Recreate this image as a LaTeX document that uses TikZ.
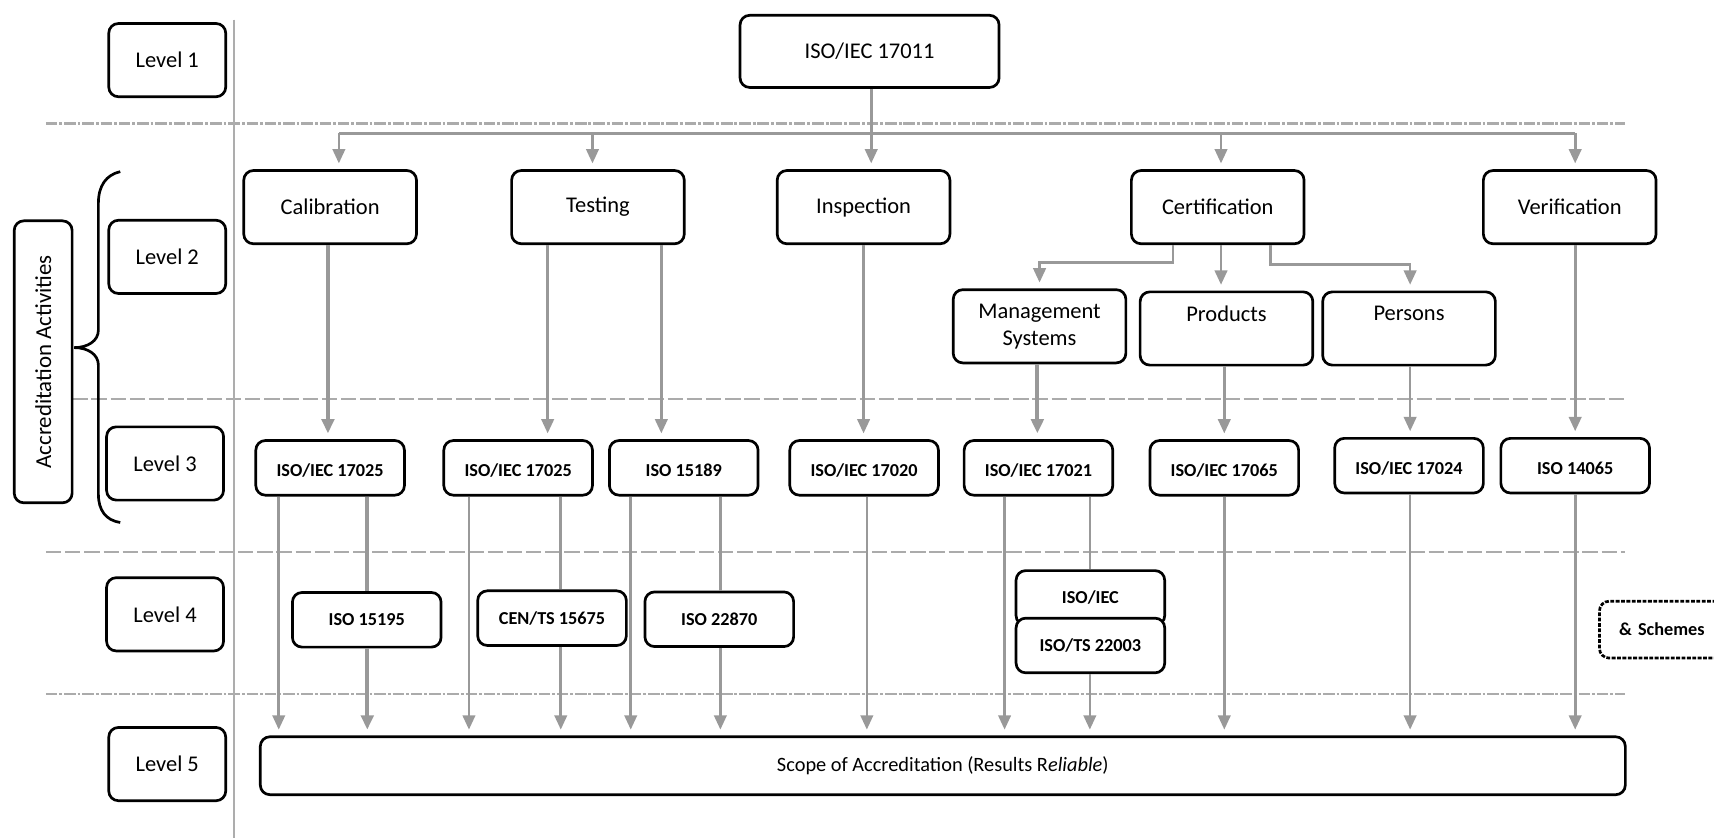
\documentclass[tikz,border=0pt]{standalone}
\usepackage{fontspec}
\setmainfont{Carlito}
\usetikzlibrary{arrows.meta,calc}
\definecolor{gl}{HTML}{999999}
\definecolor{dl}{HTML}{ABABAB}
\tikzset{
  box/.style={draw=black, line width=1.4pt, rounded corners=5pt, fill=white, inner sep=0pt, align=center},
  lvl/.style={box, minimum width=2.14cm, minimum height=1.34cm, font=\fontsize{11.7}{14}\selectfont},
  act/.style={box, minimum width=3.16cm, minimum height=1.34cm, font=\fontsize{11.7}{14}\selectfont},
  std/.style={box, minimum width=2.72cm, minimum height=1.0cm, font=\bfseries\fontsize{9.5}{11}\selectfont},
  stdlow/.style={std, text height=11pt, text depth=1.5pt},
  gline/.style={draw=gl, line width=1.4pt},
  garr/.style={gline, -{Triangle[width=6.5pt,length=7.5pt]}, shorten >=3pt},
  garrb/.style={garr, line width=2.1pt},
  sepA/.style={draw=dl, line width=1.1pt, dash pattern=on 6pt off 1pt on 1.5pt off 1pt},
  sepB/.style={draw=dl, line width=1.2pt, dash pattern=on 8pt off 2pt},
}
\begin{document}
\begin{tikzpicture}[x=0.02cm,y=-0.02cm]
\useasboundingbox (0,0) rectangle (1568,767);
% separators
\draw[sepA] (42,113) -- (1487,113);
\draw[sepB] (66,365) -- (1487,365);
\draw[sepB] (42,505) -- (1487,505);
\draw[sepA] (42,635) -- (1487,635);
\draw[draw=gl!80, line width=0.6pt] (214,18) -- (214,767);
% left column
\node[lvl] (L1) at (153,55) {Level 1};
\node[lvl] (L2) at (153,235) {Level 2};
\node[lvl] (L3) at (151,424) {Level 3};
\node[lvl] (L4) at (151,562) {Level 4};
\node[lvl] (L5) at (153,699) {Level 5};
\node[box, minimum width=1.06cm, minimum height=5.16cm, font=\fontsize{11.9}{14}\selectfont] (acc) at (39.5,331) {};
\node[rotate=90, font=\fontsize{11.9}{14}\selectfont] (acct) at (acc.center) {Accreditation Activities};
\draw[line width=1.4pt] (110,157) .. controls (97,160) and (90,170) .. (90,186) -- (90,302)
  .. controls (90,312) and (80,318) .. (68,318) .. controls (80,318) and (90,324) .. (90,334)
  -- (90,452) .. controls (90,467) and (97,476) .. (110,478);
% level 1
\node[box, minimum width=4.74cm, minimum height=1.32cm, font=\fontsize{11.7}{14}\selectfont] (top) at (795.5,47) {ISO/IEC 17011};
% level 2
\node[act] (cal) at (302,189.5) {Calibration};
\node[act] (test) at (547,189.5) {Testing};
\node[act] (insp) at (790,189.5) {Inspection};
\node[act] (cert) at (1114,189.5) {Certification};
\node[act] (ver) at (1436,189.5) {Verification};
\node[act] (ms) at (951,298.5) {Management\\Systems};
\node[act] (prod) at (1122,300.5) {Products\\\phantom{Systems}};
\node[act] (pers) at (1289,300.5) {Persons\\\phantom{Systems}};
% level 3
\node[stdlow] (a25a) at (302,428) {ISO/IEC 17025};
\node[stdlow] (a25b) at (474,428) {ISO/IEC 17025};
\node[stdlow] (i189) at (625.5,428) {ISO 15189};
\node[stdlow] (i20) at (790.5,428) {ISO/IEC 17020};
\node[stdlow] (i21) at (950,428) {ISO/IEC 17021};
\node[stdlow] (i65) at (1120,428) {ISO/IEC 17065};
\node[stdlow] (i24) at (1289,426) {ISO/IEC 17024};
\node[stdlow] (i14) at (1441,426) {ISO 14065};
% level 4
\node[std] (i195) at (335.5,567) {ISO 15195};
\node[std] (cen) at (505,565.5) {CEN/TS 15675};
\node[std] (i870) at (658,566.5) {ISO 22870};
\node[std] (iec) at (997.5,547) {ISO/IEC};
\node[std] (ts) at (997.5,590.5) {ISO/TS 22003};
\node[std, anchor=west, dash pattern=on 2pt off 0.8pt, minimum width=3.2cm, minimum height=1.04cm,
  text width=2.48cm, inner xsep=0.36cm, align=left] (sch) at (1462,576) {\& Schemes};
% level 5
\node[box, minimum width=24.98cm, minimum height=1.06cm, font=\fontsize{10.6}{12}\selectfont] (scope) at (862.5,700.5) {Scope of Accreditation (Results R\textit{eliable})};
% connectors level 1 -> 2
\coordinate (busL) at (310,122);
\coordinate (busR) at (1441,122);
\draw[gline] (top.south -| 797,0) -- (797,122);
\draw[gline] (busL) -- (busR);
\draw[garr] (busL) -- (busL |- cal.north);
\draw[garr] (542,122) -- (542,0 |- test.north);
\draw[garr] (797,122) -- (797,0 |- insp.north);
\draw[garr] (1117,122) -- (1117,0 |- cert.north);
\draw[garr] (busR) -- (busR |- ver.north);
% certification children
\draw[garr] (1073,0 |- cert.south) |- (951,240) -- (951,0 |- ms.north);
\draw[garr] (1117,0 |- cert.south) -- (1117,0 |- prod.north);
\draw[garr] (1162,0 |- cert.south) |- (1290,242) -- (1290,0 |- pers.north);
% level 2 -> 3
\draw[garrb] (300,0 |- cal.south) -- (300,0 |- a25a.north);
\draw[garr] (501,0 |- test.south) -- (501,0 |- a25b.north);
\draw[garr] (605,0 |- test.south) -- (605,0 |- i189.north);
\draw[garr] (790,0 |- insp.south) -- (790,0 |- i20.north);
\draw[garrb] (949,0 |- ms.south) -- (949,0 |- i21.north);
\draw[garr] (1120,0 |- prod.south) -- (1120,0 |- i65.north);
\draw[garr] (1290,0 |- pers.south) -- (1290,0 |- i24.north);
\draw[garr] (1441,0 |- ver.south) -- (1441,0 |- i14.north);
% level 3 -> 4 -> 5
\draw[garr] (255,0 |- a25a.south) -- (255,0 |- scope.north);
\draw[gline, line width=2.1pt] (336,0 |- a25a.south) -- (336,0 |- i195.north);
\draw[garrb] (336,0 |- i195.south) -- (336,0 |- scope.north);
\draw[garr] (429,0 |- a25b.south) -- (429,0 |- scope.north);
\draw[gline] (513,0 |- a25b.south) -- (513,0 |- cen.north);
\draw[garr] (513,0 |- cen.south) -- (513,0 |- scope.north);
\draw[garr] (577,0 |- i189.south) -- (577,0 |- scope.north);
\draw[gline] (659,0 |- i189.south) -- (659,0 |- i870.north);
\draw[garr] (659,0 |- i870.south) -- (659,0 |- scope.north);
\draw[garr] (793,0 |- i20.south) -- (793,0 |- scope.north);
\draw[garr] (919,0 |- i21.south) -- (919,0 |- scope.north);
\draw[gline] (997,0 |- i21.south) -- (997,0 |- iec.north);
\draw[garr] (997,0 |- ts.south) -- (997,0 |- scope.north);
\draw[garr] (1120,0 |- i65.south) -- (1120,0 |- scope.north);
\draw[garr] (1290,0 |- i24.south) -- (1290,0 |- scope.north);
\draw[garr] (1441,0 |- i14.south) -- (1441,0 |- scope.north);
\end{tikzpicture}
\end{document}
